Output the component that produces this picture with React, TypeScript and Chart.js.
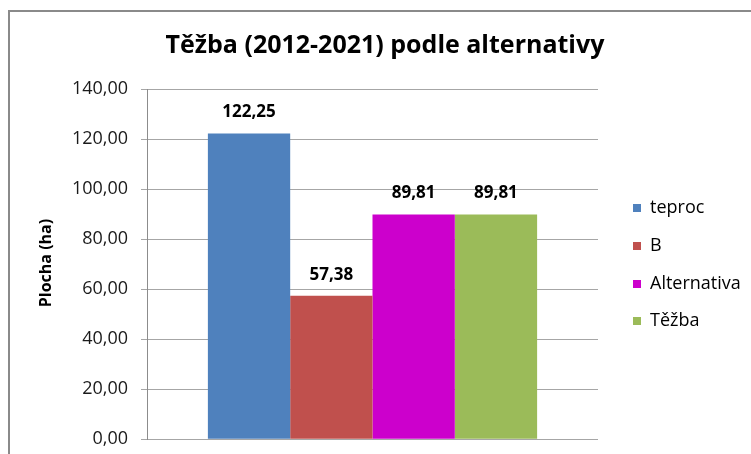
import React, { useEffect, useRef } from "react";
import { Chart, registerables } from "chart.js";

Chart.register(...registerables);

const categories = ["Těžba (2012-2021)"];
const seriesNames = ["teproc", "B", "Alternativa", "Těžba"];
const teprocValues = [122.25];
const bValues = [57.38];
const alternativaValues = [89.81];
const tezbaValues = [89.81];
const seriesColors = ["#4F81BD", "#C0504D", "#CC00CC", "#9BBB59"];
const yMin = 0;
const yMax = 140;
const yStep = 20;
const chartTitle = "Těžba (2012-2021) podle alternativy";
const yAxisTitle = "Plocha (ha)";

const FONT = "'Open Sans', 'DejaVu Sans', sans-serif";
const CANVAS_H = 463;

const fmt = (v: number) => v.toFixed(2).replace(".", ",");

const decorPlugin = {
  id: "decor",
  beforeDraw(chart: any) {
    const { ctx, width, height } = chart;
    ctx.save();
    ctx.fillStyle = "#ffffff";
    ctx.fillRect(0, 0, width, height);
    ctx.strokeStyle = "#8a8a8a";
    ctx.lineWidth = 2;
    ctx.strokeRect(9, 11, width + 40, height + 40);
    ctx.restore();
  },
  afterDatasetsDraw(chart: any) {
    const { ctx } = chart;
    ctx.save();
    ctx.font = `bold 17px ${FONT}`;
    ctx.fillStyle = "#000000";
    ctx.textAlign = "center";
    ctx.textBaseline = "middle";
    chart.data.datasets.forEach((ds: any, i: number) => {
      const meta = chart.getDatasetMeta(i);
      meta.data.forEach((bar: any, j: number) => {
        ctx.fillText(fmt(ds.data[j]), bar.x, bar.y - 21);
      });
    });
    ctx.restore();
  },
  afterDraw(chart: any) {
    const { ctx } = chart;
    ctx.save();
    // title
    ctx.fillStyle = "#000000";
    ctx.font = `bold 25px ${FONT}`;
    ctx.textAlign = "center";
    ctx.textBaseline = "middle";
    ctx.fillText(chartTitle, 385, 46);
    // y axis title
    ctx.save();
    ctx.translate(46, 263);
    ctx.rotate(-Math.PI / 2);
    ctx.font = `bold 16px ${FONT}`;
    ctx.fillText(yAxisTitle, 0, 0);
    ctx.restore();
    // legend
    const rows = [208, 246, 284, 321];
    ctx.font = `18px ${FONT}`;
    ctx.textAlign = "left";
    chart.data.datasets.forEach((ds: any, i: number) => {
      const y = rows[i];
      ctx.fillStyle = ds.backgroundColor;
      ctx.fillRect(633, y - 4, 8, 8);
      ctx.fillStyle = "#000000";
      ctx.fillText(ds.label, 650, y);
    });
    ctx.restore();
  },
};

export default function App() {
  const canvasRef = useRef<HTMLCanvasElement | null>(null);

  useEffect(() => {
    if (!canvasRef.current) return;
    const values = [teprocValues, bValues, alternativaValues, tezbaValues];
    const chart = new Chart(canvasRef.current, {
      type: "bar",
      data: {
        labels: categories,
        datasets: seriesNames.map((name, i) => ({
          label: name,
          data: values[i],
          backgroundColor: seriesColors[i],
          borderWidth: 0,
          categoryPercentage: 0.73,
          barPercentage: 1,
        })),
      },
      options: {
        animation: false,
        responsive: false,
        devicePixelRatio: 1,
        layout: { padding: { left: 0, top: 89, right: 153, bottom: 5 } },
        plugins: {
          legend: { display: false },
          title: { display: false },
          tooltip: { enabled: false },
        },
        scales: {
          x: { display: false },
          y: {
            min: yMin,
            max: yMax,
            afterFit: (scale: any) => {
              scale.width = 147;
            },
            ticks: {
              stepSize: yStep,
              callback: (v: any) => fmt(Number(v)),
              font: { family: FONT, size: 18 },
              color: "#1a1a1a",
              padding: 13,
            },
            grid: {
              color: "#a6a6a6",
              lineWidth: 1,
              tickLength: 6,
              drawTicks: true,
            },
            border: { display: true, color: "#8c8c8c", width: 1 },
          },
        },
      },
      plugins: [decorPlugin],
    });
    return () => chart.destroy();
  }, []);

  return (
    <div
      style={{
        position: "fixed",
        left: 0,
        top: 0,
        width: 751,
        height: 454,
        overflow: "hidden",
        background: "#ffffff",
      }}
    >
      <canvas
        ref={canvasRef}
        width={751}
        height={CANVAS_H}
        style={{ display: "block", width: 751, height: CANVAS_H }}
      />
    </div>
  );
}
